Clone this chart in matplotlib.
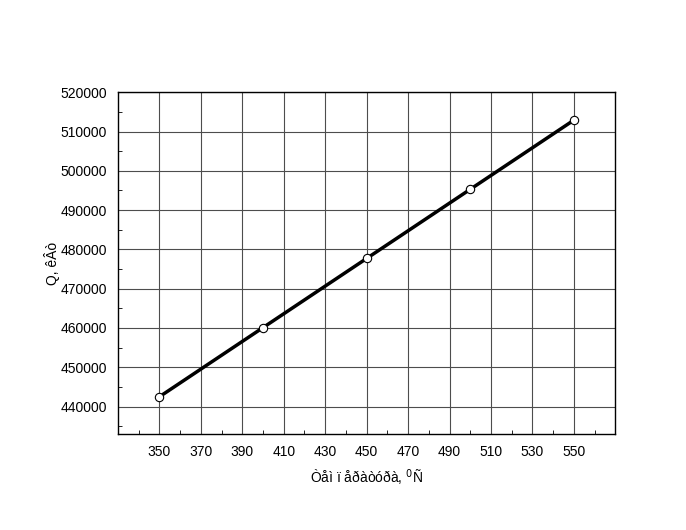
import numpy as np
import matplotlib
matplotlib.use("Agg")
from matplotlib import pyplot as plt
from matplotlib.ticker import MultipleLocator

plt.rcParams['font.family'] = ['Liberation Sans', 'DejaVu Sans']

# data
temperature = [350, 400, 450, 500, 550]
power = [442500, 460100, 477700, 495300, 512900]

x_ticks = list(range(350, 551, 20))
y_ticks = list(range(440000, 520001, 10000))

fig = plt.figure(figsize=(6.86, 5.3), dpi=100)
ax = fig.add_axes([0.172, 0.181, 0.725, 0.645])

ax.plot(temperature, power, color='black', lw=2.5, zorder=3,
        marker='o', markersize=6, markerfacecolor='white',
        markeredgecolor='black', markeredgewidth=0.8)

ax.set_xlim(330, 570)
ax.set_ylim(433000, 520000)
ax.set_xticks(x_ticks)
ax.set_yticks(y_ticks)
ax.xaxis.set_minor_locator(MultipleLocator(10))
ax.yaxis.set_minor_locator(MultipleLocator(5000))
ax.tick_params(which='both', direction='in', labelsize=10)
ax.tick_params(which='major', length=0, pad=8)
ax.tick_params(which='minor', length=3)

ax.grid(True, which='major', color='0.3', lw=0.8)
for s in ax.spines.values():
    s.set_linewidth(1.0)

ax.set_xlabel('Òåì ï åðàòóðà, $^0$Ñ', fontsize=10, labelpad=6)
ax.set_ylabel('Q, êÂò', fontsize=10, labelpad=0)

plt.savefig('out.png', dpi=100)
